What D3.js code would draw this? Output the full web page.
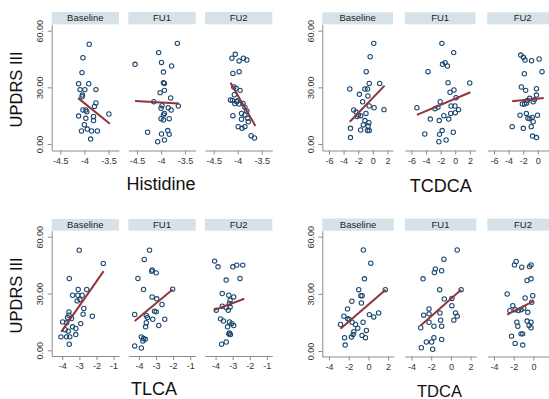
<!DOCTYPE html>
<html>
<head>
<meta charset="utf-8">
<script src="https://cdn.jsdelivr.net/npm/d3@7"></script>
<style>
  body { margin: 0; background: #fff; }
  svg { display: block; font-family: "Liberation Sans", Arial, sans-serif; }
</style>
</head>
<body>
<div id="chart"></div>
<script>
// facet names and axis ticks
const facetNames = ["Baseline", "FU1", "FU2"];
const yTicks = [0, 30, 60];
const histTicks = [-4.5, -4, -3.5];
const tcdcaTicks = [-6, -4, -2, 0, 2];
const tlcaTicks = [-4, -3, -2, -1];
const tdcaTicks = [-4, -2, 0, 2];

// [x, UPDRS III]
const histBase = [[-3.90,52.8],[-4.03,45.7],[-4.05,37.8],[-4.12,31.9],[-3.91,31.9],[-4.09,28.8],[-3.99,28.8],[-3.76,28.8],[-4.04,25.9],[-4.05,25.0],[-3.76,21.7],[-3.79,19.9],[-4.03,18.0],[-3.97,18.0],[-3.95,17.1],[-4.12,14.8],[-3.97,13.6],[-3.81,14.6],[-3.81,12.4],[-3.49,15.9],[-4.0,10.2],[-3.94,7.9],[-4.06,6.9],[-3.85,6.9],[-3.73,6.9],[-3.87,2.6]];
const histFU1 = [[-4.54,42.2],[-3.66,53.3],[-4.05,48.4],[-3.99,43.2],[-3.78,41.3],[-3.95,38.1],[-3.95,32.5],[-3.93,32.1],[-3.93,28.4],[-4.02,27.2],[-3.80,24.4],[-4.15,22.4],[-3.64,20.1],[-3.98,20.3],[-3.85,19.2],[-4.0,18.9],[-3.79,18.0],[-3.93,16.2],[-3.95,15.4],[-4.0,13.4],[-3.83,13.4],[-3.95,12.7],[-4.28,6.2],[-3.86,7.1],[-3.83,5.1],[-3.99,5.3],[-3.93,2.1],[-4.07,1.2]];
const histFU2 = [[-4.05,47.5],[-4.12,45.4],[-3.88,45.4],[-3.81,44.5],[-3.97,44.0],[-4.1,37.4],[-3.97,38.3],[-4.08,30.2],[-4.03,29.5],[-3.95,28.4],[-4.07,26.1],[-4.15,23.3],[-4.11,23.1],[-4.02,22.4],[-4.06,21.4],[-3.97,21.2],[-3.89,21.5],[-3.85,19.4],[-4.0,22.9],[-3.92,16.2],[-3.81,17.5],[-4.1,15.0],[-3.85,15.4],[-3.92,13.1],[-3.79,13.6],[-3.78,11.8],[-3.99,9.2],[-3.91,8.3],[-3.85,9.2],[-3.72,4.4],[-3.65,3.2]];

const tcdcaBase = [[0.13,53.3],[-0.36,46.2],[-0.9,38.3],[-3.15,29.1],[-1.08,29.1],[-0.72,29.1],[-0.49,32.1],[0.94,32.1],[-1.84,26.3],[-0.67,25.4],[-1.39,22.4],[-0.49,20.1],[0.18,19.2],[1.53,18.2],[-2.61,18.0],[-2.29,16.9],[-0.94,16.2],[-1.98,15.4],[-1.66,15.0],[-2.16,14.5],[-1.08,12.4],[-0.54,11.3],[-1.3,10.1],[-0.63,9.5],[-1.66,7.4],[-0.72,7.1],[-0.49,7.1],[-3.06,8.3],[-3.06,3.4]];
const tcdcaFU1 = [[-1.84,53.3],[-0.22,48.4],[-1.39,43.1],[-1.75,42.2],[-1.08,41.3],[-3.73,38.3],[-0.99,32.5],[1.98,32.3],[-0.18,28.6],[-0.72,27.4],[0.09,24.5],[-2.07,22.4],[-5.26,19.2],[-2.38,19.4],[-2.79,18.7],[-0.58,20.1],[-0.04,20.1],[0.45,18.2],[0,16.6],[-0.63,16.2],[-1.57,15.0],[-3.42,13.2],[-0.9,13.2],[-2.2,12.4],[-4.18,5.3],[-1.8,7.1],[-2.16,5.1],[-0.27,6.2],[-1.26,2.1],[-2.25,1.2]];
const tcdcaFU2 = [[-2.34,47.1],[-1.98,45.9],[-1.75,44.5],[-0.85,44.1],[0.18,45.0],[0.58,38.3],[-1.84,37.2],[-2.25,30.2],[-1.66,28.4],[-0.18,29.3],[-0.18,25.9],[-1.12,24.2],[-1.44,23.1],[-0.45,23.5],[-2.11,21.2],[-1.8,21.2],[-1.53,21.7],[-0.63,22.4],[-1.57,16.2],[-2.43,15.2],[-0.04,15.2],[-1.08,13.4],[-0.76,14.1],[-1.35,13.6],[-0.63,11.8],[-3.51,9.2],[-1.98,8.3],[-0.9,9.2],[-0.72,4.2],[-0.18,3.4]];

const tlcaBase = [[-3.01,52.9],[-1.6,45.9],[-3.59,37.9],[-3.07,32.1],[-2.57,32.1],[-3.40,29.1],[-3.09,29.1],[-2.84,29.1],[-3.13,26.1],[-2.97,26.8],[-2.74,22.1],[-3.61,20.3],[-3.61,18.5],[-2.78,19.1],[-2.24,18.0],[-3.69,17.3],[-3.46,16.8],[-3.98,15.0],[-3.75,14.5],[-2.92,14.1],[-3.40,12.4],[-3.21,11.5],[-3.83,10.9],[-3.65,10.1],[-3.21,8.3],[-4.08,7.1],[-3.75,7.1],[-3.56,7.1],[-3.59,3.2]];
const tlcaFU1 = [[-3.38,52.9],[-3.69,48.0],[-4.06,37.9],[-3.25,41.8],[-3.22,42.4],[-2.99,40.9],[-3.73,32.1],[-3.23,28.2],[-2.96,27.2],[-2.03,32.3],[-4.25,18.9],[-3.57,18.4],[-3.09,20.6],[-2.99,20.3],[-2.65,24.2],[-3.19,16.4],[-2.49,16.4],[-3.57,14.6],[-3.61,12.4],[-2.84,13.1],[-3.86,7.1],[-3.73,6.2],[-3.63,5.8],[-3.77,4.9],[-4.25,2.3],[-3.86,1.2],[-3.5,17.3]];
const tlcaFU2 = [[-4.06,47.1],[-3.86,44.1],[-2.99,44.1],[-2.76,45.0],[-2.41,45.0],[-3.38,37.1],[-2.57,37.9],[-3.61,30.0],[-3.23,29.1],[-2.94,28.2],[-3.15,26.5],[-3.19,24.7],[-3.61,23.3],[-3.38,22.6],[-3.96,21.2],[-3.26,21.2],[-3.15,22.9],[-3.71,16.6],[-3.54,15.5],[-3.19,15.0],[-3.05,14.1],[-2.94,13.1],[-3.30,12.4],[-3.19,9.2],[-3.13,8.3],[-3.22,8.6],[-3.65,3.2],[-3.38,4.4]];

const tdcaBase = [[-0.51,53.0],[0.24,46.1],[-0.40,37.9],[-0.98,32.2],[-0.77,29.0],[-0.64,29.0],[-1.68,26.1],[-0.71,25.2],[-2.12,22.1],[-2.49,18.3],[-2.09,16.9],[-1.95,16.5],[0.1,19.1],[0.54,17.9],[1.04,20.0],[1.72,32.2],[-2.83,13.9],[-1.65,15.1],[-1.31,13.9],[-1.08,12.0],[-0.54,15.1],[-0.2,10.8],[-1.48,10.1],[-1.55,8.7],[-1.72,7.3],[-0.64,8.2],[-0.3,7.0],[-2.42,7.0],[-2.36,3.1]];
const tdcaFU1 = [[0.64,53.0],[-0.71,48.2],[-1.58,43.1],[-1.68,41.2],[-0.94,42.1],[-2.83,37.9],[-1.14,32.2],[1.04,32.2],[-0.67,27.3],[0.1,27.6],[-2.22,22.1],[0.1,23.8],[-2.76,18.8],[-2.22,19.5],[-1.11,20.0],[0.47,20.0],[0.64,18.3],[-3.06,12.2],[-2.22,15.1],[-1.72,13.0],[-1.04,16.2],[-0.94,13.0],[0.3,16.2],[-2.49,4.7],[-3.0,1.7],[-1.95,4.7],[-1.72,7.0],[-1.85,0.9],[-0.94,6.1]];
const tdcaFU2 = [[-1.75,47.0],[-1.92,45.2],[-1.18,44.0],[-0.40,44.3],[-0.24,45.2],[-0.24,37.9],[-0.64,37.0],[-2.66,29.9],[-0.07,29.0],[-0.84,27.8],[-2.09,23.8],[-2.39,21.2],[-1.85,21.7],[-1.52,21.2],[-1.25,21.7],[-0.98,22.4],[-0.17,25.6],[-1.68,15.1],[-1.58,13.0],[-0.64,15.7],[-0.24,15.1],[-0.44,13.4],[-0.24,12.2],[-1.25,9.0],[-1.08,9.0],[-2.22,7.8],[-1.85,4.0],[-1.08,3.1],[-0.57,20.3]];

// fitted lines, [x0, y0, x1, y1] per facet
const histFits = [[-4.13,24.3,-3.47,10.7],[-4.54,22.8,-3.63,21.5],[-4.15,32.5,-3.63,9.5]];
const tcdcaFits = [[-3.15,11.8,1.62,30.9],[-5.26,15.4,2.07,27.4],[-3.51,22.6,0.81,24.4]];
const tlcaFits = [[-4.06,9.7,-1.58,41.8],[-4.25,15.5,-2.03,32.1],[-4.1,21.2,-2.32,27.2]];
const tdcaFits = [[-2.83,11.7,1.75,32.2],[-3.06,13.4,1.04,32.2],[-2.66,19.1,-0.03,26.1]];

const W = 549, H = 399;
const navy = "#1a476f", maroon = "#90353b";

const svg = d3.select("#chart").append("svg")
  .attr("width", W).attr("height", H);

// layout of the four panels
const panels = [
  {title: "Histidine", sets: [histBase, histFU1, histFU2], fits: histFits, ticks: histTicks,
   xDomain: [-4.68, -3.28], left: 51.7, step: 76.65, fw: 67.3,
   stripTop: 12, stripBot: 24.3, y0: 144, y60: 30.7, axisY: 150.5,
   yTitle: true, titleX: 161, titleY: 189.5, titleSize: 18},
  {title: "TCDCA", sets: [tcdcaBase, tcdcaFU1, tcdcaFU2], fits: tcdcaFits, ticks: tcdcaTicks,
   xDomain: [-6.92, 2.77], left: 322.3, step: 82.5, fw: 70.7,
   stripTop: 12.3, stripBot: 24.3, y0: 144, y60: 30.7, axisY: 150.5,
   yTitle: false, titleX: 440.7, titleY: 191.5, titleSize: 18},
  {title: "TLCA", sets: [tlcaBase, tlcaFU1, tlcaFU2], fits: tlcaFits, ticks: tlcaTicks,
   xDomain: [-4.62, -0.68], left: 51.7, step: 76.65, fw: 67.3,
   stripTop: 219, stripBot: 230.7, y0: 350.3, y60: 236.7, axisY: 356,
   yTitle: true, titleX: 154, titleY: 394.5, titleSize: 18},
  {title: "TDCA", sets: [tdcaBase, tdcaFU1, tdcaFU2], fits: tdcaFits, ticks: tdcaTicks,
   xDomain: [-4.68, 2.58], left: 322.3, step: 82.5, fw: 71.5,
   stripTop: 218.5, stripBot: 230.7, y0: 351, y60: 236.7, axisY: 356.5,
   yTitle: false, titleX: 439.5, titleY: 396.5, titleSize: 16.5}
];

panels.forEach(p => {
  // y scale stretched so the axis covers the whole plot region
  const k = (p.y0 - p.y60) / 60;
  const y = d3.scaleLinear()
    .domain([-(p.axisY - p.y0) / k, 60 + (p.y60 - p.stripBot) / k])
    .range([p.axisY, p.stripBot]);

  const yAxis = svg.append("g")
    .attr("transform", "translate(" + p.left + ",0)")
    .call(d3.axisLeft(y).tickValues(yTicks).tickFormat(d3.format(".2f"))
      .tickSize(4).tickSizeOuter(0));
  yAxis.selectAll("path, line").attr("stroke", "#8c8c8c");
  yAxis.selectAll("text")
    .attr("transform", "rotate(-90)")
    .attr("x", 0).attr("y", -8.5).attr("dy", 0)
    .attr("text-anchor", "middle")
    .attr("fill", "#333").attr("font-size", 9);

  p.sets.forEach((pts, i) => {
    const fx = p.left + i * p.step;
    const x = d3.scaleLinear().domain(p.xDomain).range([fx, fx + p.fw]);

    svg.append("rect")
      .attr("x", fx).attr("y", p.stripTop)
      .attr("width", p.fw).attr("height", p.stripBot - p.stripTop)
      .attr("fill", "#d7e2e8");
    svg.append("text")
      .attr("x", fx + p.fw / 2).attr("y", p.stripBot - 3)
      .attr("text-anchor", "middle")
      .attr("font-size", 9.5).attr("fill", "#222")
      .text(facetNames[i]);

    // the picture is cropped on the right: ticks past the edge are not shown
    const shown = p.ticks.filter(t => x(t) + 3 < W);
    const xAxis = svg.append("g")
      .attr("transform", "translate(0," + p.axisY + ")")
      .call(d3.axisBottom(x).tickValues(shown).tickFormat(d => String(d))
        .tickSize(4).tickSizeOuter(0).tickPadding(3));
    xAxis.selectAll("path, line").attr("stroke", "#8c8c8c");
    xAxis.selectAll("text").attr("fill", "#333").attr("font-size", 9);

    svg.append("g").selectAll("circle")
      .data(pts).join("circle")
      .attr("cx", d => x(d[0])).attr("cy", d => y(d[1]))
      .attr("r", 2.2)
      .attr("fill", "none").attr("stroke", navy).attr("stroke-width", 1.05);

    const f = p.fits[i];
    svg.append("line")
      .attr("x1", x(f[0])).attr("y1", y(f[1]))
      .attr("x2", x(f[2])).attr("y2", y(f[3]))
      .attr("stroke", maroon).attr("stroke-width", 2);
  });

  svg.append("text")
    .attr("x", p.titleX).attr("y", p.titleY)
    .attr("text-anchor", "middle")
    .attr("font-size", p.titleSize).attr("fill", "#111")
    .text(p.title);

  if (p.yTitle) {
    const cy = (p.stripBot + p.axisY) / 2 + 2;
    svg.append("text")
      .attr("transform", "translate(22," + cy + ") rotate(-90)")
      .attr("text-anchor", "middle")
      .attr("font-size", 16.5).attr("fill", "#111")
      .text("UPDRS III");
  }
});
</script>
</body>
</html>
